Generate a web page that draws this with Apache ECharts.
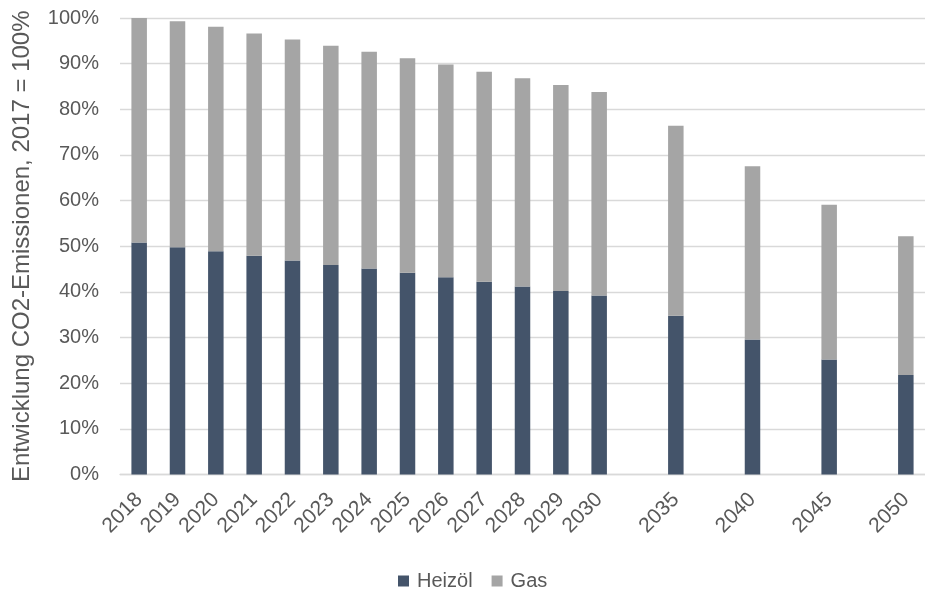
<!DOCTYPE html>
<html>
<head>
<meta charset="utf-8">
<script src="https://cdn.jsdelivr.net/npm/echarts@6/dist/echarts.min.js"></script>
<style>
  html, body { margin: 0; padding: 0; background: #fff; }
  #chart { width: 925px; height: 592px; }
</style>
</head>
<body>
<div id="chart"></div>
<script>
// Jahre (leere Einträge = Lücken zwischen den 5-Jahres-Schritten)
var years = ['2018', '2019', '2020', '2021', '2022', '2023', '2024', '2025', '2026', '2027', '2028', '2029', '2030',
  '', '2035', '', '2040', '', '2045', '', '2050'];
// Heizöl-Anteil in %
var heizoel = [50.8, 49.8, 48.9, 47.9, 46.9, 45.9, 45.1, 44.2, 43.2, 42.2, 41.2, 40.2, 39.2,
  '-', 34.8, '-', 29.6, '-', 25.2, '-', 21.8];
// Gas-Anteil in %
var gas = [49.2, 49.5, 49.2, 48.7, 48.4, 48.0, 47.5, 47.0, 46.6, 46.0, 45.6, 45.1, 44.6,
  '-', 41.6, '-', 37.9, '-', 33.9, '-', 30.4];
var yTicks = [0, 10, 20, 30, 40, 50, 60, 70, 80, 90, 100];

var chartObj = echarts.init(document.getElementById('chart'));
var font = "'Liberation Sans', Arial, sans-serif";

var option = {
  animation: false,
  textStyle: { fontFamily: font, color: '#595959' },
  grid: {
    left: 120,
    right: -10,
    top: 18,
    height: 456.5
  },
  legend: {
    data: ['Heizöl', 'Gas'],
    left: 393,
    top: 566,
    itemWidth: 11,
    itemHeight: 11,
    itemGap: 19,
    icon: 'rect',
    textStyle: { fontSize: 20, color: '#595959', fontFamily: font, padding: [0, 0, 0, 3] }
  },
  xAxis: {
    type: 'category',
    data: years,
    axisLine: { lineStyle: { color: '#D9D9D9', width: 1.3 } },
    axisTick: { show: false },
    axisLabel: {
      interval: 0,
      rotate: 45,
      margin: 22,
      fontSize: 21,
      color: '#595959',
      fontFamily: font
    }
  },
  yAxis: {
    type: 'value',
    min: yTicks[0],
    max: yTicks[yTicks.length - 1],
    interval: 10,
    name: 'Entwicklung CO2-Emissionen, 2017 = 100%',
    nameLocation: 'middle',
    nameGap: 86,
    nameTextStyle: { fontSize: 24, color: '#595959', fontFamily: font },
    axisLine: { show: false },
    axisTick: { show: false },
    axisLabel: {
      formatter: '{value}%',
      margin: 21,
      fontSize: 20,
      color: '#595959',
      fontFamily: font
    },
    splitLine: { lineStyle: { color: '#D9D9D9', width: 1.3 } }
  },
  series: [
    {
      name: 'Heizöl',
      type: 'bar',
      stack: 'total',
      barWidth: 15.5,
      itemStyle: { color: '#44546A' },
      data: heizoel
    },
    {
      name: 'Gas',
      type: 'bar',
      stack: 'total',
      barWidth: 15.5,
      itemStyle: { color: '#A5A5A5' },
      data: gas
    }
  ]
};
chartObj.setOption(option);
</script>
</body>
</html>
